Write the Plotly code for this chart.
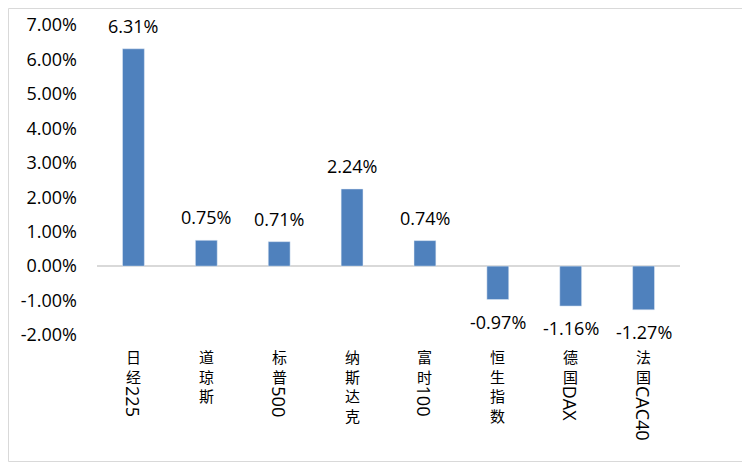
import plotly.graph_objects as go

categories = ["日经225", "道琼斯", "标普500", "纳斯达克", "富时100", "恒生指数", "德国DAX", "法国CAC40"]
values = [6.31, 0.75, 0.71, 2.24, 0.74, -0.97, -1.16, -1.27]
tick_vals = [-2, -1, 0, 1, 2, 3, 4, 5, 6, 7]
tick_text = ["-2.00%", "-1.00%", "0.00%", "1.00%", "2.00%", "3.00%", "4.00%", "5.00%", "6.00%", "7.00%"]

LAT = "Open Sans, Noto Sans CJK SC, sans-serif"
CJK = "Noto Sans CJK SC, sans-serif"
# the page body adds an 8px offset; size the figure so the plot lands where the reference has it
W, H = 742, 454
ML, MR, MT, MB = 89, 70, 17, 127
PW, PH = W - ML - MR, H - MT - MB
FS = 18        # latin / numbers
FC = 15        # CJK characters
LINE = FC * 1.3

fig = go.Figure()
fig.add_trace(go.Bar(
    x=categories, y=values, marker_color="#4F81BD", width=0.3,
    hoverinfo="skip",
))

annotations = []
for c, v in zip(categories, values):
    annotations.append(dict(
        x=c, y=v, xref="x", yref="y", text=f"{v:.2f}%", showarrow=False,
        yanchor="bottom" if v >= 0 else "top",
        yshift=10 if v >= 0 else -9,
        borderpad=0,
        font=dict(family=LAT, size=FS, color="#000000"),
    ))
    # vertical category label: CJK upright, latin rotated
    cjk = [ch for ch in c if ord(ch) > 0x2E80]
    latin = "".join(ch for ch in c if ord(ch) <= 0x2E80)
    annotations.append(dict(
        x=c, y=0, xref="x", yref="paper", text="<br>".join(cjk), showarrow=False,
        yanchor="top", yshift=-10, borderpad=0,
        font=dict(family=CJK, size=FC, color="#000000"),
    ))
    if latin:
        annotations.append(dict(
            x=c, y=0, xref="x", yref="paper", text=latin, showarrow=False,
            textangle=90, yanchor="top", yshift=-(11 + LINE * len(cjk)), borderpad=0,
            font=dict(family=LAT, size=FS, color="#000000"),
        ))

# outer border of the chart
shapes = [dict(
    type="rect", xref="paper", yref="paper",
    x0=(0.5 - ML) / PW, x1=(W - 0.5 - ML) / PW,
    y0=-(MB - 0.5) / PH, y1=1 + (MT - 0.5) / PH,
    line=dict(color="#D9D9D9", width=1), fillcolor="rgba(0,0,0,0)", layer="below",
)]

fig.update_layout(
    width=W, height=H,
    margin=dict(l=ML, r=MR, t=MT, b=MB, autoexpand=False),
    paper_bgcolor="white", plot_bgcolor="white",
    showlegend=False,
    font=dict(family=LAT, size=FS, color="#000000"),
    annotations=annotations,
    shapes=shapes,
    bargap=0.7,
)
fig.update_xaxes(showticklabels=False, showgrid=False, showline=False, zeroline=False,
                 ticks="", automargin=False)
fig.update_yaxes(
    range=[-2, 7], tickvals=tick_vals, ticktext=tick_text,
    showgrid=False, showline=False, ticks="", automargin=False,
    zeroline=True, zerolinecolor="#D9D9D9", zerolinewidth=2,
    ticklabelstandoff=19,
    tickfont=dict(family=LAT, size=FS, color="#000000"),
)

fig.write_html("out.html")
